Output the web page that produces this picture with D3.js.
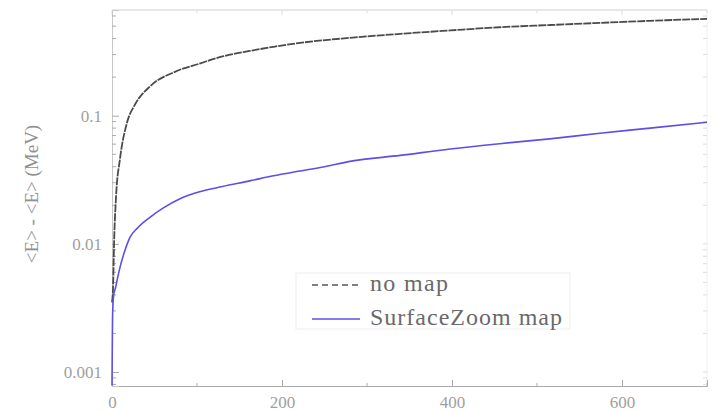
<!DOCTYPE html>
<html><head><meta charset="utf-8">
<script src="https://cdn.jsdelivr.net/npm/d3@7"></script>
<style>body{margin:0;background:#fff}svg{display:block}</style>
</head><body>
<svg id="c" width="719" height="413"></svg>
<script>
const xTicks = [0, 200, 400, 600];
const yTicks = [0.001, 0.01, 0.1];
const yTickLabels = ["0.001", "0.01", "0.1"];
const seriesNames = ["no map", "SurfaceZoom map"];
const noMapX = [0,1.2,2.4,4.7,9.4,17.6,27,45,74,103,130,162,190,221,280,339,398,456,515,574,633,700];
const noMapY = [0.0035,0.0045,0.0100,0.023,0.046,0.088,0.122,0.17,0.22,0.255,0.29,0.32,0.345,0.37,0.405,0.435,0.463,0.49,0.51,0.53,0.55,0.57];
const szX = [0,0.3,0.6,1,2,4,7,10,15,21,30,45,60,80,103,130,162,190,221,250,280,339,398,456,515,574,633,700];
const szY = [0.00078,0.0015,0.0025,0.0032,0.0040,0.0045,0.0056,0.0068,0.0088,0.0112,0.0133,0.0162,0.019,0.0225,0.0255,0.028,0.031,0.034,0.037,0.040,0.044,0.049,0.055,0.0605,0.066,0.073,0.080,0.089];

const W = 719, H = 413;
const m = {l:112, r:12, t:10, b:27};
const svg = d3.select("#c");
const x = d3.scaleLinear().domain([0,700]).range([m.l, W-m.r]);
const y = d3.scaleLog().domain([0.000778, 0.668]).range([H-m.b, m.t]);

const tickCol = "#aaa", frameCol = "#c8c8c8", labCol = "#a0a0a0";
const font = "'Liberation Serif','Times New Roman',serif";

// frame
const g = svg.append("g");
g.append("line").attr("x1",x(0)).attr("x2",x(700)).attr("y1",y.range()[1]).attr("y2",y.range()[1]).attr("stroke","#d0d0d0");
g.append("line").attr("x1",x(700)).attr("x2",x(700)).attr("y1",y.range()[0]).attr("y2",y.range()[1]).attr("stroke","#f0f0f0");

// bottom axis
const xa = svg.append("g").attr("transform",`translate(0,${H-m.b})`)
  .call(d3.axisBottom(x).tickValues(xTicks).tickSize(-6).tickPadding(10).tickFormat(d3.format("d")));
xa.select(".domain").attr("stroke",tickCol);
xa.selectAll(".tick line").attr("stroke",tickCol);
xa.selectAll("text").attr("fill",labCol).style("font-family",font).style("font-size","17px");
const xminor = d3.range(100,701,200);
svg.append("g").selectAll("line").data(xminor).join("line")
  .attr("x1",d=>x(d)).attr("x2",d=>x(d)).attr("y1",H-m.b).attr("y2",H-m.b-3).attr("stroke",tickCol);
// top ticks
svg.append("g").selectAll("line").data(xTicks.concat(xminor)).join("line")
  .attr("x1",d=>x(d)).attr("x2",d=>x(d)).attr("y1",m.t).attr("y2",d=>m.t+(d%200===0?5:3)).attr("stroke","#ddd");

// left axis
const ya = svg.append("g").attr("transform",`translate(${m.l},0)`)
  .call(d3.axisLeft(y).tickValues(yTicks).tickSize(-7).tickPadding(10).tickFormat((d,i)=>yTickLabels[i]));
ya.select(".domain").attr("stroke",frameCol);
ya.selectAll(".tick line").attr("stroke",tickCol);
ya.selectAll("text").attr("fill",labCol).style("font-family",font).style("font-size","17px");
const yminor = [];
[0.0001,0.001,0.01,0.1].forEach(b=>{for(let k=2;k<=9;k++){const v=b*k; if(v>=0.000778&&v<=0.668)yminor.push(v);}});
svg.append("g").selectAll("line").data(yminor).join("line")
  .attr("x1",m.l).attr("x2",m.l+4).attr("y1",d=>y(d)).attr("y2",d=>y(d)).attr("stroke",tickCol);
svg.append("g").selectAll("line").data(yminor.concat(yTicks)).join("line")
  .attr("x1",x(700)).attr("x2",x(700)-4).attr("y1",d=>y(d)).attr("y2",d=>y(d)).attr("stroke","#ddd");

// y label
svg.append("text").attr("transform",`translate(38,${(m.t+H-m.b)/2 - 4}) rotate(-90)`)
  .attr("text-anchor","middle").attr("fill","#909090").style("font-family",font).style("font-size","19px")
  .text("<E> - <E> (MeV)");

// lines
const line = d3.line().curve(d3.curveMonotoneX).x(d=>x(d[0])).y(d=>y(d[1]));
svg.append("path").datum(noMapX.map((v,i)=>[v,noMapY[i]])).attr("d",line)
  .attr("fill","none").attr("stroke","#4a4a4a").attr("stroke-width",1.8).attr("stroke-dasharray","8,1");
svg.append("path").datum(szX.map((v,i)=>[v,szY[i]])).attr("d",line)
  .attr("fill","none").attr("stroke","#5a50e6").attr("stroke-width",1.6);

// legend
const lg = svg.append("g");
lg.append("rect").attr("x",296).attr("y",273).attr("width",274).attr("height",56)
  .attr("fill","#fff").attr("stroke","#eee");
const items = [{dash:"6,4",col:"#555",w:78},{dash:null,col:"#5a50e6",w:192}];
items.forEach((it,i)=>{
  const yy = 285 + i*34;
  lg.append("line").attr("x1",312).attr("x2",360).attr("y1",yy).attr("y2",yy)
    .attr("stroke",it.col).attr("stroke-width",1.6).attr("stroke-dasharray",it.dash);
  lg.append("text").attr("x",370).attr("y",yy+6).attr("fill","#6a6a6a")
    .attr("textLength",it.w).attr("lengthAdjust","spacing")
    .style("font-family",font).style("font-size","24px").text(seriesNames[i]);
});
</script>
</body></html>
